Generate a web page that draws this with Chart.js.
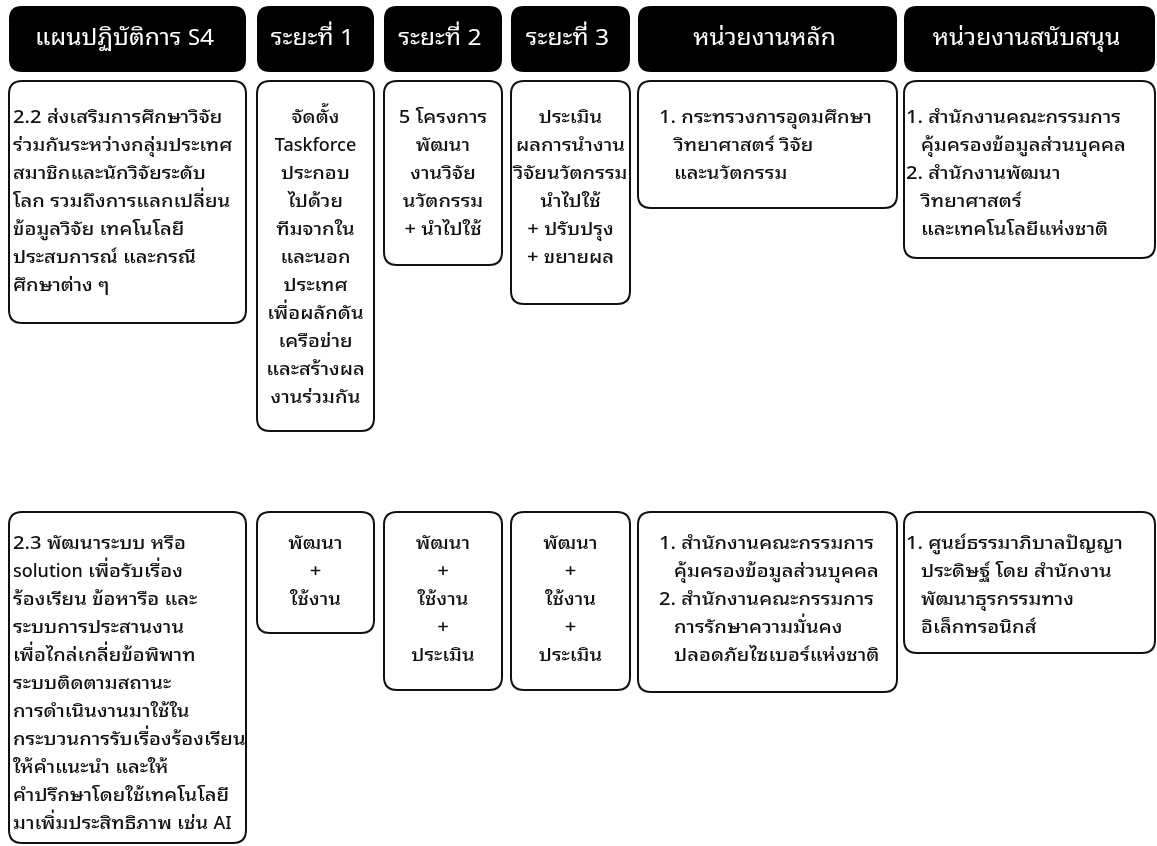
<!DOCTYPE html>
<html lang="th">
<head>
<meta charset="utf-8">
<title>แผนปฏิบัติการ S4</title>
<script src="https://cdn.jsdelivr.net/npm/chart.js@4.4.1/dist/chart.umd.min.js"></script>
<style>
  html, body { margin: 0; padding: 0; background: #fff; }
  #wrap { position: relative; width: 1157px; height: 846px; }
</style>
</head>
<body>
<div id="wrap"><canvas id="plan"></canvas></div>
<script>
  // หัวตาราง
  const headers = ['แผนปฏิบัติการ S4', 'ระยะที่ 1', 'ระยะที่ 2', 'ระยะที่ 3', 'หน่วยงานหลัก', 'หน่วยงานสนับสนุน']

  // แถวที่ 1 (2.2)
  const row1Texts = [
    ['2.2 ส่งเสริมการศึกษาวิจัย', 'ร่วมกันระหว่างกลุ่มประเทศ', 'สมาชิกและนักวิจัยระดับ', 'โลก รวมถึงการแลกเปลี่ยน', 'ข้อมูลวิจัย เทคโนโลยี', 'ประสบการณ์ และกรณี', 'ศึกษาต่าง ๆ'],
    ['จัดตั้ง', 'Taskforce', 'ประกอบ', 'ไปด้วย', 'ทีมจากใน', 'และนอก', 'ประเทศ', 'เพื่อผลักดัน', 'เครือข่าย', 'และสร้างผล', 'งานร่วมกัน'],
    ['5 โครงการ', 'พัฒนา', 'งานวิจัย', 'นวัตกรรม', '+ นำไปใช้'],
    ['ประเมิน', 'ผลการนำงาน', 'วิจัยนวัตกรรม', 'นำไปใช้', '+ ปรับปรุง', '+ ขยายผล'],
    ['1. กระทรวงการอุดมศึกษา', 'วิทยาศาสตร์ วิจัย', 'และนวัตกรรม'],
    ['1. สำนักงานคณะกรรมการ', 'คุ้มครองข้อมูลส่วนบุคคล', '2. สำนักงานพัฒนา', 'วิทยาศาสตร์', 'และเทคโนโลยีแห่งชาติ']
  ]

  // แถวที่ 2 (2.3)
  const row2Texts = [
    ['2.3 พัฒนาระบบ หรือ', 'solution เพื่อรับเรื่อง', 'ร้องเรียน ข้อหารือ และ', 'ระบบการประสานงาน', 'เพื่อไกล่เกลี่ยข้อพิพาท', 'ระบบติดตามสถานะ', 'การดำเนินงานมาใช้ใน', 'กระบวนการรับเรื่องร้องเรียน', 'ให้คำแนะนำ และให้', 'คำปรึกษาโดยใช้เทคโนโลยี', 'มาเพิ่มประสิทธิภาพ เช่น AI'],
    ['พัฒนา', '+', 'ใช้งาน'],
    ['พัฒนา', '+', 'ใช้งาน', '+', 'ประเมิน'],
    ['พัฒนา', '+', 'ใช้งาน', '+', 'ประเมิน'],
    ['1. สำนักงานคณะกรรมการ', 'คุ้มครองข้อมูลส่วนบุคคล', '2. สำนักงานคณะกรรมการ', 'การรักษาความมั่นคง', 'ปลอดภัยไซเบอร์แห่งชาติ'],
    ['1. ศูนย์ธรรมาภิบาลปัญญา', 'ประดิษฐ์ โดย สำนักงาน', 'พัฒนาธุรกรรมทาง', 'อิเล็กทรอนิกส์']
  ]

  // ตำแหน่ง/ขนาด (หน่วยของสเกล)
  const colLeft = [9, 257, 384, 511, 638, 904]
  const colRight = [246, 374, 502, 630, 897, 1155]
  const textInset = [4, 0, 0, 0, 21, 2]
  const colAlign = ['left', 'center', 'center', 'center', 'list', 'list']
  const headerTop = 6, headerBottom = 72
  const rowTop = [81, 512]
  const rowBottom = [[323, 431, 265, 304, 208, 258], [843, 633, 690, 690, 692, 653]]
  const firstLine = [118, 544]
  const lineGap = 28

  const FONT = '"Noto Sans Thai Looped", "Noto Sans Thai", "Noto Sans", sans-serif'
  const STRETCH = 1.12   // ตัวอักษรไทยในต้นฉบับกว้างกว่า

  const roundBox = (c, x0, y0, x1, y1, r) => {
    c.beginPath()
    c.moveTo(x0 + r, y0)
    c.lineTo(x1 - r, y0)
    c.quadraticCurveTo(x1, y0, x1, y0 + r)
    c.lineTo(x1, y1 - r)
    c.quadraticCurveTo(x1, y1, x1 - r, y1)
    c.lineTo(x0 + r, y1)
    c.quadraticCurveTo(x0, y1, x0, y1 - r)
    c.lineTo(x0, y0 + r)
    c.quadraticCurveTo(x0, y0, x0 + r, y0)
    c.closePath()
  }

  // แยกข้อความเป็นช่วง อักษรละติน/อื่น ๆ  (ยืดเฉพาะอักษรไทย)
  const splitRuns = t => t.match(/[A-Za-z]+|[^A-Za-z]+/g) || []
  const runWidth = (c, run) => c.measureText(run).width * (/[A-Za-z]/.test(run) ? 1 : STRETCH)

  const wideText = (c, t, x, y, align) => {
    const runs = splitRuns(t)
    const total = runs.reduce((s, r) => s + runWidth(c, r), 0)
    let cx = align === 'center' ? x - total / 2 : x
    c.textAlign = 'left'
    runs.forEach(run => {
      const k = /[A-Za-z]/.test(run) ? 1 : STRETCH
      c.save()
      c.translate(cx, y)
      c.scale(k, 1)
      c.fillText(run, 0, 0)
      c.restore()
      cx += runWidth(c, run)
    })
  }

  const tablePlugin = {
    id: 'planTable',
    afterDatasetsDraw(chart) {
      const c = chart.ctx
      const sx = chart.scales.x, sy = chart.scales.y
      const px = v => sx.getPixelForValue(v)
      const py = v => sy.getPixelForValue(v)
      c.save()

      // หัวตาราง
      headers.forEach((h, i) => {
        roundBox(c, px(colLeft[i]), py(headerTop), px(colRight[i]), py(headerBottom), 13)
        c.fillStyle = '#000'
        c.fill()
        c.fillStyle = '#fff'
        c.font = '22px ' + FONT
        c.textBaseline = 'middle'
        wideText(c, h, (px(colLeft[i]) + px(colRight[i])) / 2 - 3, py((headerTop + headerBottom) / 2), 'center')
      })

      // กล่องข้อความ
      ;[row1Texts, row2Texts].forEach((row, r) => {
        row.forEach((lines, i) => {
          roundBox(c, px(colLeft[i]), py(rowTop[r]), px(colRight[i]), py(rowBottom[r][i]), 13)
          c.fillStyle = '#fff'
          c.fill()
          c.lineWidth = 2
          c.strokeStyle = '#111'
          c.stroke()

          c.fillStyle = '#111'
          c.font = '500 18px ' + FONT
          c.textBaseline = 'middle'
          lines.forEach((t, k) => {
            const y = py(firstLine[r] + k * lineGap)
            if (colAlign[i] === 'center') {
              wideText(c, t, (px(colLeft[i]) + px(colRight[i])) / 2, y, 'center')
            } else {
              let x = colLeft[i] + textInset[i]
              if (colAlign[i] === 'list' && !/^\d\./.test(t)) x += 15
              wideText(c, t, px(x), y, 'left')
            }
          })
        })
      })
      c.restore()
    }
  }

  new Chart(document.getElementById('plan'), {
    type: 'scatter',
    data: { datasets: [{ data: [], pointRadius: 0 }] },
    options: {
      responsive: true,
      maintainAspectRatio: false,
      animation: false,
      layout: { padding: 0 },
      plugins: { legend: { display: false }, tooltip: { enabled: false } },
      scales: {
        x: { type: 'linear', min: 0, max: 1157, display: false },
        y: { type: 'linear', min: 0, max: 846, reverse: true, display: false }
      }
    },
    plugins: [tablePlugin]
  })
</script>
</body>
</html>
